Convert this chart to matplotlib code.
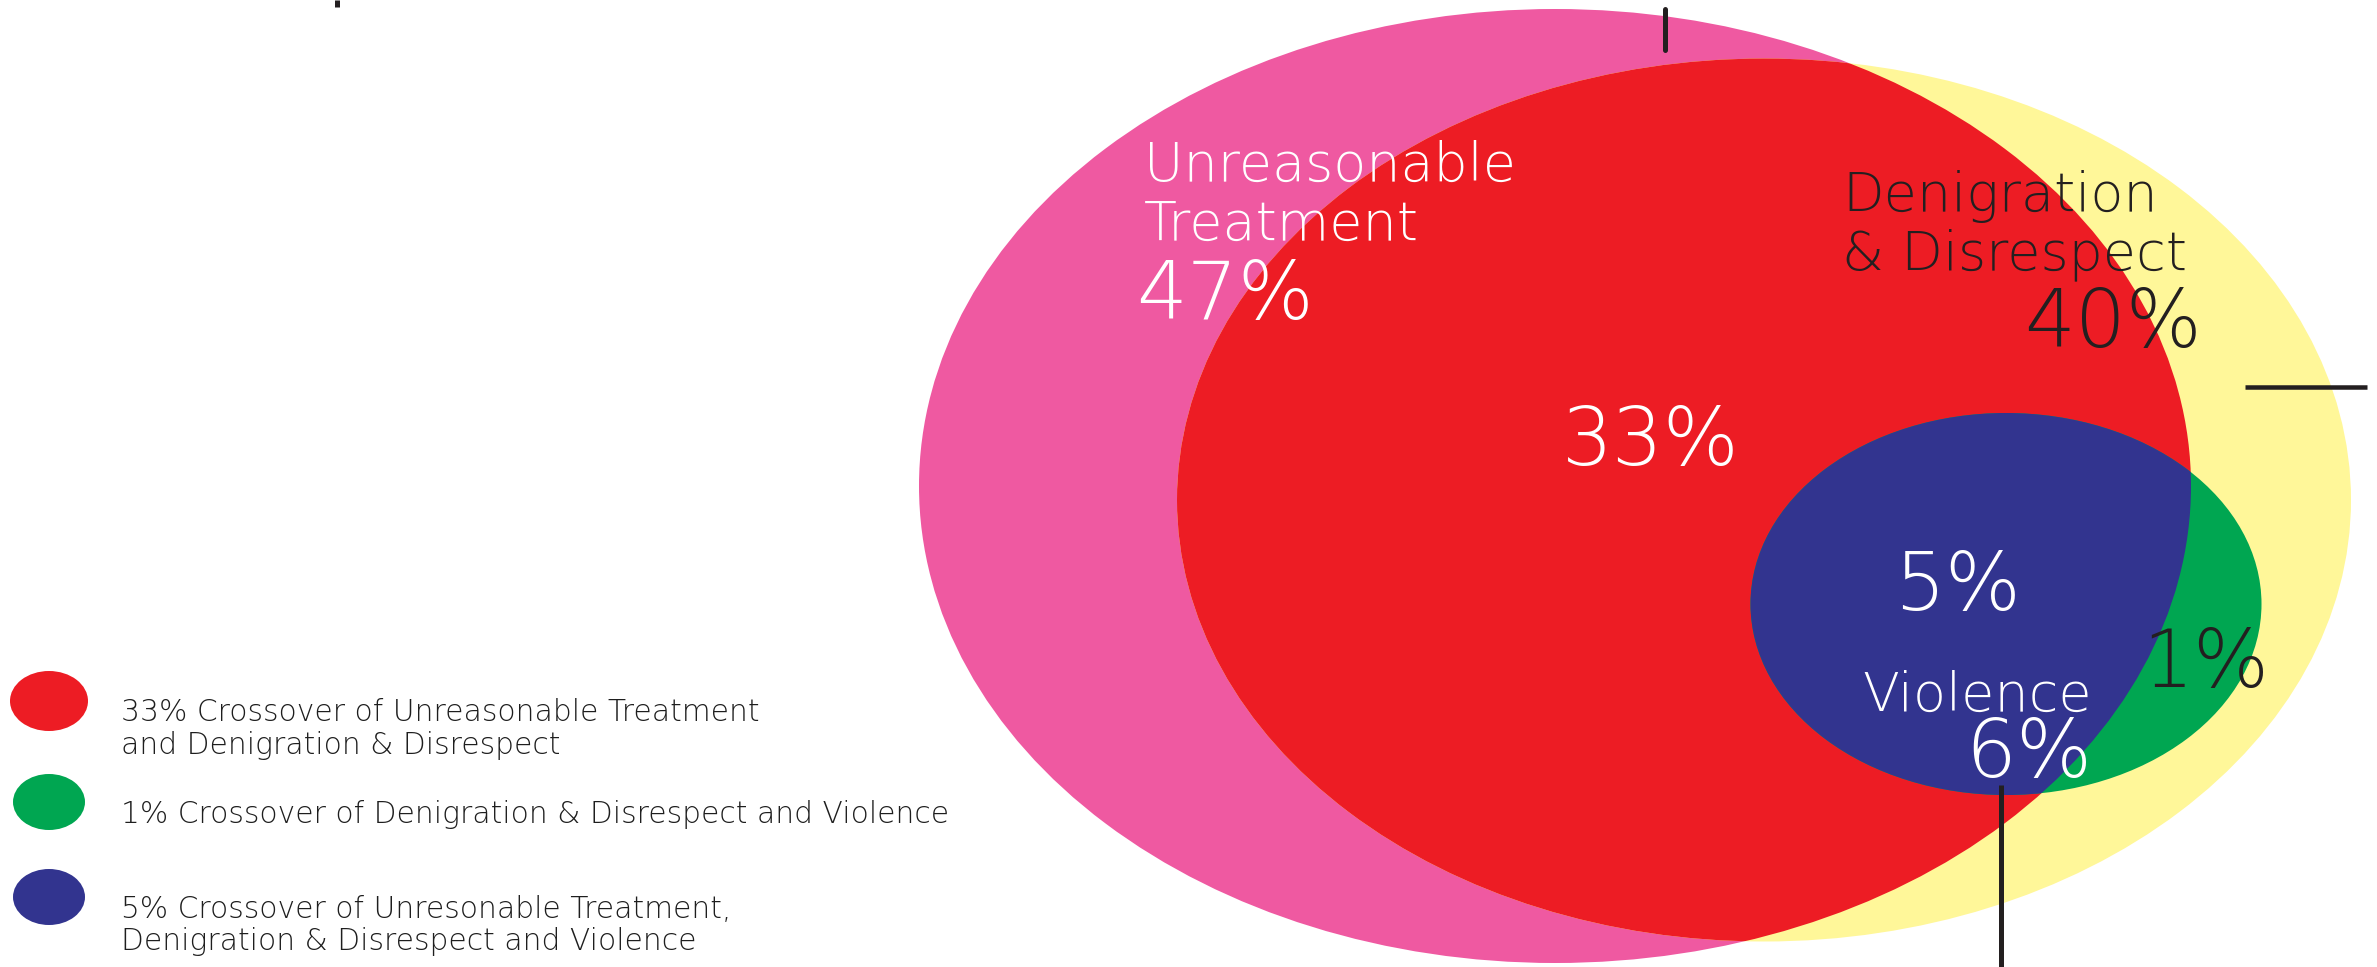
import matplotlib
matplotlib.use("Agg")
import matplotlib.pyplot as plt
from matplotlib.patches import Ellipse

# ---------------- data ----------------
set_names = ["Unreasonable\nTreatment", "Denigration\n& Disrespect", "Violence"]
set_totals = [47, 40, 6]
overlap_ut_dd = 33          # Unreasonable Treatment & Denigration
overlap_dd_v = 1            # Denigration & Violence
overlap_all = 5             # all three
legend_texts = [
    "33% Crossover of Unreasonable Treatment\nand Denigration & Disrespect",
    "1% Crossover of Denigration & Disrespect and Violence",
    "5% Crossover of Unresonable Treatment,\nDenigration & Disrespect and Violence",
]

# ---------------- styles ----------------
PINK = "#EF59A1"
RED = "#ED1C24"
YELLOW = "#FFF799"
GREEN = "#00A651"
BLUE = "#32348F"
INK = "#231F20"
LEG_INK = "#1E1E1E"
FONT = "DejaVu Sans"
W, H = 2377, 967
PX = 72 / 100.0  # points per pixel at dpi 100

fig = plt.figure(figsize=(W / 100, H / 100), dpi=100)
ax = fig.add_axes([0, 0, 1, 1])
ax.set_xlim(0, W)
ax.set_ylim(H, 0)
ax.axis("off")

# ellipse geometry (centre x, centre y, width, height) in pixel space
geo_ut = (1555, 486, 1272, 954)
geo_dd = (1764, 500, 1174, 883)
geo_v = (2006, 604, 511, 382)


def ell(g, **kw):
    return Ellipse((g[0], g[1]), g[2], g[3], **kw)


ax.add_patch(ell(geo_ut, fc=PINK, ec="none", zorder=1))
ax.add_patch(ell(geo_dd, fc=YELLOW, ec="none", zorder=1))
red = ell(geo_dd, fc=RED, ec="none", zorder=2)
ax.add_patch(red)
red.set_clip_path(ell(geo_ut, transform=ax.transData))
ax.add_patch(ell(geo_v, fc=GREEN, ec="none", zorder=3))
blue = ell(geo_v, fc=BLUE, ec="none", zorder=4)
ax.add_patch(blue)
blue.set_clip_path(ell(geo_ut, transform=ax.transData))

# leader lines
lw = 5 * PX
ax.plot([337, 337], [0, 7], color=INK, lw=lw, solid_capstyle="butt", zorder=6)
ax.plot([1665, 1665], [9, 50], color=INK, lw=lw, solid_capstyle="round", zorder=6)
ax.plot([2245, 2367], [387, 387], color=INK, lw=4.5 * PX, solid_capstyle="butt", zorder=6)
ax.plot([2001, 2001], [785, 967], color=INK, lw=lw, solid_capstyle="butt", zorder=6)

WEIGHT = 200


def txt(x, y, s, size_px, color, ha="left"):
    ax.text(x, y, s, fontsize=size_px * PX, color=color, ha=ha, va="baseline",
            family=FONT, fontweight=WEIGHT, zorder=7)


LBL = 54
PCT = 80
ut_lines = set_names[0].split("\n")
txt(1144, 181, ut_lines[0], LBL, "white")
txt(1144, 240, ut_lines[1], LBL, "white")
txt(1136, 319, f"{set_totals[0]}%", PCT, "white")
dd_lines = set_names[1].split("\n")
txt(1842, 211, dd_lines[0], LBL, INK)
txt(1842, 269, dd_lines[1], LBL, INK)
txt(2202, 347, f"{set_totals[1]}%", PCT, INK, ha="right")
txt(2092, 711, set_names[2], LBL, "white", ha="right")
txt(2092, 777, f"{set_totals[2]}%", PCT, "white", ha="right")
txt(1651, 465, f"{overlap_ut_dd}%", PCT, "white", ha="center")
txt(1958, 610, f"{overlap_all}%", PCT, "white", ha="center")
txt(2206, 687, f"{overlap_dd_v}%", PCT, INK, ha="center")

# legend
leg_colors = [RED, GREEN, BLUE]
leg_dots = [(49, 701, 78, 60), (49, 802, 72, 56), (49, 897, 72, 56)]
leg_baselines = [721, 823, 918]
LEG = 29.7
for c, d, yb, t in zip(leg_colors, leg_dots, leg_baselines, legend_texts):
    ax.add_patch(ell(d, fc=c, ec="none", zorder=5))
    for i, line in enumerate(t.split("\n")):
        ax.text(121, yb + i * 32.5, line, fontsize=LEG * PX, color=LEG_INK,
                ha="left", va="baseline", family=FONT, fontweight=WEIGHT, zorder=7)

fig.savefig("out.png", dpi=100)
